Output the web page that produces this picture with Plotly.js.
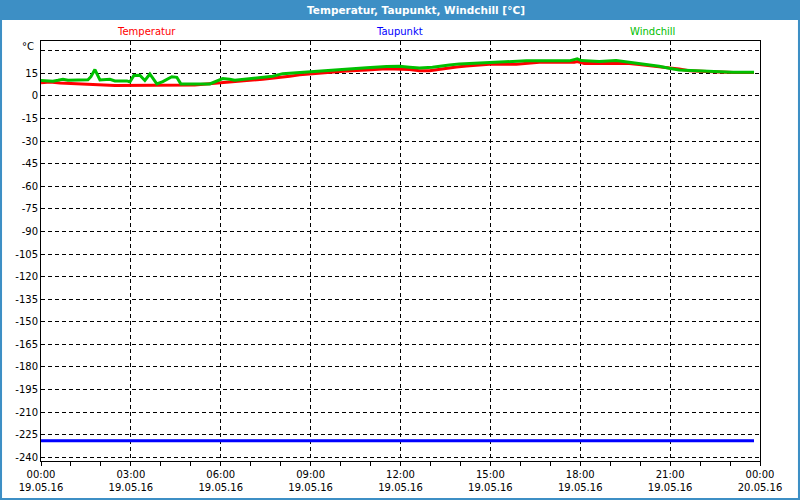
<!DOCTYPE html>
<html>
<head>
<meta charset="utf-8">
<script src="https://cdn.plot.ly/plotly-3.0.1.min.js"></script>
<style>
    html, body { margin: 0; padding: 0; background: #ffffff; }
    #chart { width: 800px; height: 500px; }
</style>
</head>
<body>
<div id="chart"></div>
<script>
// --- DATA ---
const TEMP_TIMES = [
    '2016-05-19 00:00', '2016-05-19 00:18', '2016-05-19 00:38', '2016-05-19 01:18', '2016-05-19 01:38',
    '2016-05-19 02:28', '2016-05-19 05:08', '2016-05-19 05:38', '2016-05-19 05:58', '2016-05-19 06:24',
    '2016-05-19 06:52', '2016-05-19 07:24', '2016-05-19 07:52', '2016-05-19 08:18', '2016-05-19 08:38',
    '2016-05-19 08:58', '2016-05-19 09:18', '2016-05-19 09:44', '2016-05-19 10:12', '2016-05-19 10:52',
    '2016-05-19 11:32', '2016-05-19 12:18', '2016-05-19 12:38', '2016-05-19 12:58', '2016-05-19 13:12',
    '2016-05-19 13:32', '2016-05-19 13:52', '2016-05-19 14:12', '2016-05-19 14:38', '2016-05-19 14:58',
    '2016-05-19 15:52', '2016-05-19 16:12', '2016-05-19 16:38', '2016-05-19 17:48', '2016-05-19 17:54',
    '2016-05-19 18:08', '2016-05-19 19:38', '2016-05-19 19:58', '2016-05-19 20:18', '2016-05-19 20:38',
    '2016-05-19 20:58', '2016-05-19 21:18', '2016-05-19 21:38', '2016-05-19 22:08', '2016-05-19 22:38',
    '2016-05-19 23:08', '2016-05-19 23:48'
];
const TEMP_VALUES = [
    8.8, 9.3, 8.6, 8.0, 7.3,
    6.9, 7.3, 8.0, 8.9, 9.5,
    10.2, 11.1, 12.0, 13.1, 14.0,
    14.6, 15.3, 15.9, 16.6, 17.3,
    18.1, 17.5, 16.8, 16.8, 17.5,
    18.4, 19.3, 19.9, 20.4, 21.0,
    21.0, 21.7, 22.4, 22.4, 22.8,
    21.5, 21.5, 20.8, 20.1, 19.5,
    18.8, 17.9, 16.8, 16.6, 15.9,
    15.5, 15.5
];

const CHILL_TIMES = [
    '2016-05-19 00:00', '2016-05-19 00:08', '2016-05-19 00:24', '2016-05-19 00:34', '2016-05-19 00:44',
    '2016-05-19 00:54', '2016-05-19 01:18', '2016-05-19 01:34', '2016-05-19 01:40', '2016-05-19 01:48',
    '2016-05-19 01:58', '2016-05-19 02:08', '2016-05-19 02:18', '2016-05-19 02:28', '2016-05-19 02:52',
    '2016-05-19 02:58', '2016-05-19 03:06', '2016-05-19 03:18', '2016-05-19 03:28', '2016-05-19 03:38',
    '2016-05-19 03:52', '2016-05-19 04:04', '2016-05-19 04:22', '2016-05-19 04:32', '2016-05-19 04:40',
    '2016-05-19 05:38', '2016-05-19 05:52', '2016-05-19 06:04', '2016-05-19 06:18', '2016-05-19 06:28',
    '2016-05-19 06:52', '2016-05-19 07:18', '2016-05-19 07:44', '2016-05-19 08:04', '2016-05-19 08:38',
    '2016-05-19 09:18', '2016-05-19 09:52', '2016-05-19 10:12', '2016-05-19 10:52', '2016-05-19 11:32',
    '2016-05-19 11:58', '2016-05-19 12:18', '2016-05-19 12:38', '2016-05-19 13:04', '2016-05-19 13:18',
    '2016-05-19 13:38', '2016-05-19 13:58', '2016-05-19 14:38', '2016-05-19 15:38', '2016-05-19 16:12',
    '2016-05-19 17:38', '2016-05-19 17:48', '2016-05-19 17:54', '2016-05-19 18:02', '2016-05-19 18:38',
    '2016-05-19 19:12', '2016-05-19 19:32', '2016-05-19 19:58', '2016-05-19 20:18', '2016-05-19 20:38',
    '2016-05-19 20:58', '2016-05-19 21:18', '2016-05-19 21:52', '2016-05-19 22:24', '2016-05-19 23:04',
    '2016-05-19 23:48'
];
const CHILL_VALUES = [
    10.2, 10.2, 9.8, 10.4, 11.1,
    10.4, 10.5, 10.7, 12.8, 17.5,
    10.6, 11.1, 11.1, 10.0, 10.0,
    9.3, 13.6, 13.7, 10.3, 14.6,
    8.0, 9.5, 12.8, 12.4, 8.0,
    8.0, 10.0, 11.5, 11.1, 10.4,
    11.3, 12.0, 13.1, 14.8, 15.7,
    16.6, 17.3, 18.1, 18.8, 19.5,
    19.7, 19.1, 18.6, 19.1, 19.9,
    20.6, 21.3, 21.9, 22.6, 23.3,
    23.3, 23.9, 24.6, 23.5, 22.8,
    23.5, 22.6, 21.9, 20.8, 19.7,
    18.4, 17.3, 16.8, 16.4, 15.7,
    15.7
];

const DEW_TIMES = ['2016-05-19 00:00', '2016-05-19 23:48'];
const DEW_VALUES = [-229, -229];

const SERIES_NAMES = ['Temperatur', 'Taupunkt', 'Windchill'];
const SERIES_COLORS = ['#ff0000', '#0000ff', '#00c000'];

const X_TICK_VALS = [
    '2016-05-19 00:00', '2016-05-19 03:00', '2016-05-19 06:00', '2016-05-19 09:00', '2016-05-19 12:00',
    '2016-05-19 15:00', '2016-05-19 18:00', '2016-05-19 21:00', '2016-05-20 00:00'
];
const X_TICK_TEXT = [
    '00:00<br>19.05.16', '03:00<br>19.05.16', '06:00<br>19.05.16', '09:00<br>19.05.16', '12:00<br>19.05.16',
    '15:00<br>19.05.16', '18:00<br>19.05.16', '21:00<br>19.05.16', '00:00<br>20.05.16'
];
const Y_TICK_VALS = [30, 15, 0, -15, -30, -45, -60, -75, -90, -105, -120, -135, -150, -165, -180, -195, -210, -225, -240];
const Y_TICK_TEXT = ['', '15', '0', '-15', '-30', '-45', '-60', '-75', '-90', '-105', '-120', '-135', '-150', '-165', '-180', '-195', '-210', '-225', '-240'];

const CHART_TITLE = 'Temperatur, Taupunkt, Windchill [°C]';
const UNIT_LABEL = '°C';

// --- MAIN EXECUTION ---
document.addEventListener('DOMContentLoaded', renderChart);

function renderChart() {
    const FONT = 'DejaVu Sans, Verdana, sans-serif';
    const BAR_BLUE = '#3d8fc5';

    const traces = [
        { x: TEMP_TIMES, y: TEMP_VALUES, name: SERIES_NAMES[0], color: SERIES_COLORS[0] },
        { x: DEW_TIMES, y: DEW_VALUES, name: SERIES_NAMES[1], color: SERIES_COLORS[1] },
        { x: CHILL_TIMES, y: CHILL_VALUES, name: SERIES_NAMES[2], color: SERIES_COLORS[2] }
    ].map(s => ({
        x: s.x,
        y: s.y,
        name: s.name,
        type: 'scatter',
        mode: 'lines',
        line: { color: s.color, width: 3 },
        hoverinfo: 'x+y'
    }));

    // Legend is drawn as plain coloured labels above the plot
    const legendX = [0.147, 0.499, 0.850];
    const annotations = SERIES_NAMES.map((name, i) => ({
        text: name,
        xref: 'paper', yref: 'paper',
        x: legendX[i], y: 1.022,
        xanchor: 'center', yanchor: 'middle',
        showarrow: false,
        font: { family: FONT, size: 10, color: SERIES_COLORS[i] }
    }));
    annotations.push({
        text: UNIT_LABEL,
        xref: 'paper', yref: 'paper',
        x: -0.007, y: 0.986,
        xanchor: 'right', yanchor: 'middle',
        showarrow: false,
        font: { family: FONT, size: 10, color: '#000000' }
    });

    const layout = {
        width: 800,
        height: 500,
        margin: { l: 41, r: 40, t: 41, b: 39 },
        paper_bgcolor: BAR_BLUE,
        plot_bgcolor: '#ffffff',
        showlegend: false,
        font: { family: FONT, size: 10, color: '#000000' },
        title: {
            text: '<b>' + CHART_TITLE + '</b>',
            x: 0.52, xref: 'container', xanchor: 'center',
            y: 0.979, yref: 'container', yanchor: 'middle',
            font: { family: FONT, size: 10.5, color: '#ffffff' }
        },
        xaxis: {
            type: 'date',
            range: ['2016-05-19 00:00', '2016-05-20 00:00'],
            tickmode: 'array',
            tickvals: X_TICK_VALS,
            ticktext: X_TICK_TEXT,
            ticks: 'outside',
            ticklen: 4,
            tickcolor: '#000000',
            minor: { dtick: 3600000, tick0: '2016-05-19 00:00', ticks: 'outside', ticklen: 4, tickcolor: '#000000', showgrid: false },
            showgrid: true,
            gridcolor: '#000000',
            griddash: '4px,3px',
            gridwidth: 1,
            showline: true,
            linecolor: '#000000',
            linewidth: 1,
            mirror: true,
            zeroline: false,
            tickfont: { family: FONT, size: 10, color: '#000000' }
        },
        yaxis: {
            range: [-242.5, 36.5],
            tickmode: 'array',
            tickvals: Y_TICK_VALS,
            ticktext: Y_TICK_TEXT,
            ticks: '',
            showgrid: true,
            gridcolor: '#000000',
            griddash: '4px,3px',
            gridwidth: 1,
            showline: true,
            linecolor: '#000000',
            linewidth: 1,
            mirror: true,
            zeroline: false,
            tickfont: { family: FONT, size: 10, color: '#000000' }
        },
        // White panel inside the blue frame
        shapes: [{
            type: 'rect',
            xref: 'paper', yref: 'paper',
            x0: -0.0542, x1: 1.0528,
            y0: -0.0881, y1: 1.05,
            fillcolor: '#ffffff',
            line: { width: 0 },
            layer: 'below'
        }],
        annotations: annotations
    };

    Plotly.newPlot('chart', traces, layout, { displayModeBar: false, staticPlot: true });
}
</script>
</body>
</html>
